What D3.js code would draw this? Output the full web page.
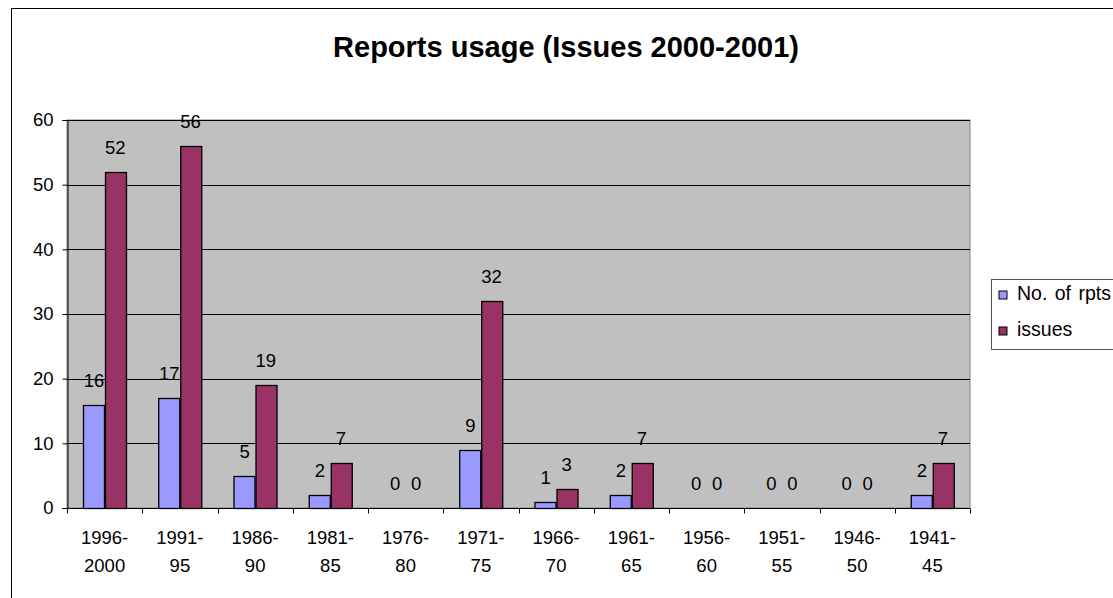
<!DOCTYPE html>
<html>
<head>
<meta charset="utf-8">
<script src="https://cdn.jsdelivr.net/npm/d3@7"></script>
<style>
  html, body { margin: 0; padding: 0; background: #fff; }
  svg { display: block; font-family: "Liberation Sans", Arial, sans-serif; }
</style>
</head>
<body>
<svg id="chart" width="1113" height="598"></svg>
<script>
// Period categories (two-line labels split at the hyphen)
const categories = ["1996-2000", "1991-95", "1986-90", "1981-85", "1976-80", "1971-75",
                    "1966-70", "1961-65", "1956-60", "1951-55", "1946-50", "1941-45"];
const catLine1 = ["1996-", "1991-", "1986-", "1981-", "1976-", "1971-", "1966-", "1961-", "1956-", "1951-", "1946-", "1941-"];
const catLine2 = ["2000", "95", "90", "85", "80", "75", "70", "65", "60", "55", "50", "45"];
const seriesNames = ["No. of rpts", "issues"];
const rpts   = [16, 17, 5, 2, 0, 9, 1, 2, 0, 0, 0, 2];
const issues = [52, 56, 19, 7, 0, 32, 3, 7, 0, 0, 0, 7];
const yTicks = [0, 10, 20, 30, 40, 50, 60];
const colors = ["#9999FF", "#993366"];

const FONT = 18.5;
const svg = d3.select("#chart");

// Outer chart frame
svg.append("rect")
  .attr("x", 11.5).attr("y", 8.5)
  .attr("width", 1140).attr("height", 620)
  .attr("fill", "#fff").attr("stroke", "#000").attr("stroke-width", 1);

// Title
svg.append("text")
  .attr("x", 566).attr("y", 57)
  .attr("text-anchor", "middle")
  .attr("font-size", 29).attr("font-weight", "bold")
  .text("Reports usage (Issues 2000-2001)");

const plot = { left: 67, right: 970, top: 120, bottom: 508 };

const x = d3.scaleBand().domain(categories).range([plot.left, plot.right]);
const inner = d3.scaleBand().domain(seriesNames)
  .range([0, x.bandwidth()]).paddingOuter(0.78).paddingInner(0);
const y = d3.scaleLinear().domain([0, 60]).range([plot.bottom, plot.top]);

// Plot background
svg.append("rect")
  .attr("x", plot.left).attr("y", plot.top)
  .attr("width", plot.right - plot.left).attr("height", plot.bottom - plot.top)
  .attr("fill", "#C0C0C0").attr("stroke", "#808080").attr("stroke-width", 1);

// Horizontal gridlines
svg.append("g").selectAll("line")
  .data(yTicks.filter(d => d > 0))
  .join("line")
  .attr("x1", plot.left).attr("x2", plot.right)
  .attr("y1", d => Math.round(y(d)) + 0.5).attr("y2", d => Math.round(y(d)) + 0.5)
  .attr("stroke", "#000").attr("stroke-width", 1);

// Y axis
const yAxis = svg.append("g")
  .attr("transform", `translate(${plot.left + 0.5},0)`)
  .call(d3.axisLeft(y).tickValues(yTicks).tickSize(5).tickPadding(9));
yAxis.select(".domain").attr("stroke", "#000");
yAxis.selectAll("text").attr("font-size", FONT).attr("fill", "#000")
  .attr("font-family", "Liberation Sans, Arial, sans-serif");

// X axis with ticks at band boundaries
const xg = svg.append("g").attr("transform", `translate(0,${plot.bottom + 0.5})`);
xg.append("line").attr("x1", plot.left).attr("x2", plot.right)
  .attr("stroke", "#000");
xg.selectAll("line.tick")
  .data(d3.range(categories.length + 1))
  .join("line").attr("class", "tick")
  .attr("x1", i => Math.round(plot.left + i * x.step()) + 0.5)
  .attr("x2", i => Math.round(plot.left + i * x.step()) + 0.5)
  .attr("y1", 0).attr("y2", 5).attr("stroke", "#000");
const xl = xg.selectAll("g.lbl").data(categories).join("g").attr("class", "lbl")
  .attr("transform", d => `translate(${x(d) + x.bandwidth() / 2},0)`);
xl.append("text").attr("y", 35).attr("text-anchor", "middle").attr("font-size", FONT)
  .text((d, i) => catLine1[i]);
xl.append("text").attr("y", 63).attr("text-anchor", "middle").attr("font-size", FONT)
  .text((d, i) => catLine2[i]);

// Bars
const rows = categories.map((c, i) => ({ cat: c, vals: [rpts[i], issues[i]] }));
const groups = svg.append("g").selectAll("g").data(rows).join("g")
  .attr("transform", d => `translate(${x(d.cat)},0)`);

groups.selectAll("rect")
  .data(d => d.vals.map((v, k) => ({ v, k })))
  .join("rect")
  .filter(d => d.v > 0)
  .attr("x", d => Math.round(inner(seriesNames[d.k])) + 0.5)
  .attr("y", d => Math.round(y(d.v)) + 0.5)
  .attr("width", Math.round(inner.bandwidth()))
  .attr("height", d => Math.round(y(0)) - Math.round(y(d.v)))
  .attr("fill", d => colors[d.k])
  .attr("stroke", "#000").attr("stroke-width", 1.3);

// Value labels
groups.selectAll("text")
  .data(d => d.vals.map((v, k) => ({ v, k })))
  .join("text")
  .attr("x", d => inner(seriesNames[d.k]) + inner.bandwidth() / 2)
  .attr("y", d => y(d.v) - 18)
  .attr("text-anchor", "middle").attr("font-size", FONT)
  .text(d => d.v);

// Legend
const lg = svg.append("g").attr("transform", "translate(991.5,279.5)");
lg.append("rect").attr("width", 140).attr("height", 70)
  .attr("fill", "#fff").attr("stroke", "#555");
seriesNames.forEach((name, k) => {
  const cy = 15.5 + k * 36;
  lg.append("rect").attr("x", 7.5).attr("y", cy - 4).attr("width", 8).attr("height", 8)
    .attr("fill", colors[k]).attr("stroke", "#000");
  lg.append("text").attr("x", 25.5).attr("y", cy + 4.5).attr("font-size", 19.5)
    .attr("word-spacing", 2).text(name);
});
</script>
</body>
</html>
